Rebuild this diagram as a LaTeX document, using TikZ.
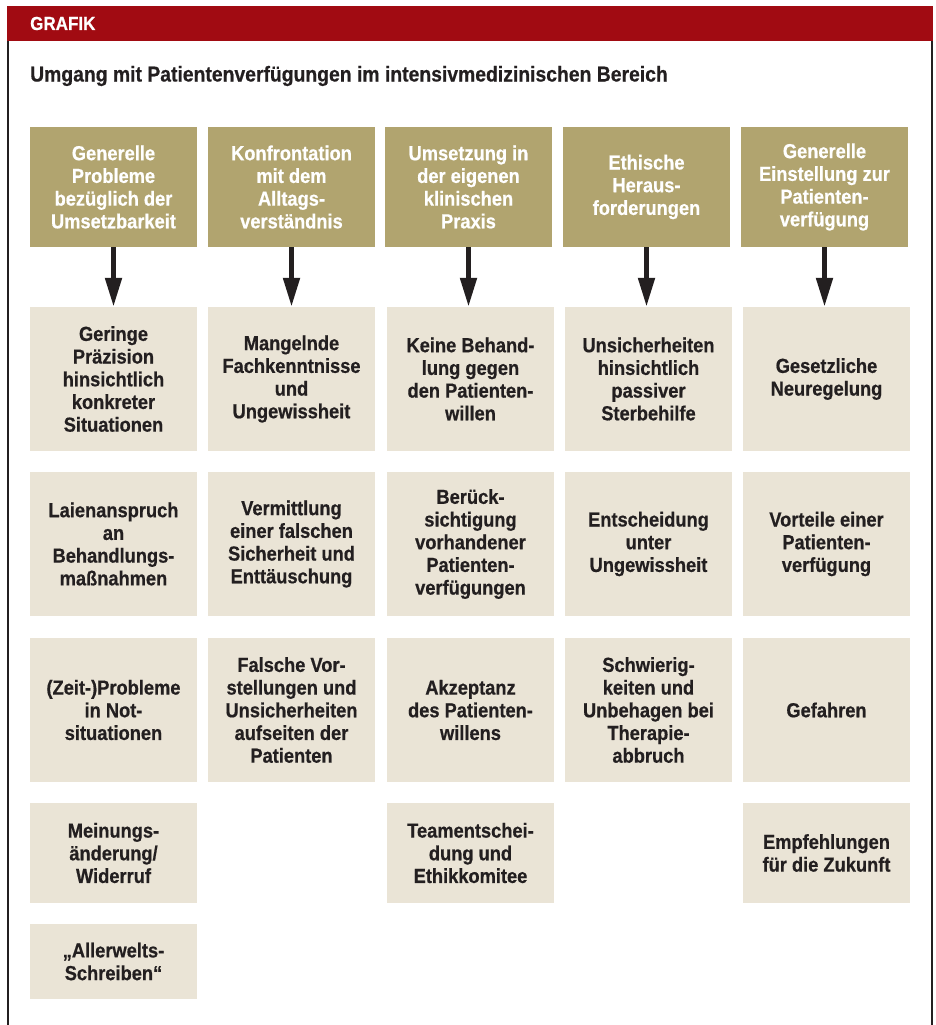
\documentclass[tikz,border=0pt]{standalone}
\usepackage{fontspec}
\setmainfont{Liberation Sans}[FakeStretch=0.9, BoldFeatures={FakeBold=0.6}]
\usetikzlibrary{arrows.meta}
\definecolor{hdrred}{HTML}{A10B12}
\definecolor{tan}{HTML}{B1A46F}
\definecolor{light}{HTML}{EAE4D6}
\definecolor{ink}{HTML}{231F20}
\tikzset{
  topbox/.style={fill=tan, text=white, align=center, inner sep=0pt,
    minimum width=167pt, minimum height=120pt,
    font=\bfseries\fontsize{20.3}{22.7}\selectfont},
  itembox/.style={fill=light, text=ink, align=center, inner sep=0pt,
    minimum width=167pt, font=\bfseries\fontsize{20.3}{22.7}\selectfont},
  rowA/.style={minimum height=144pt},
  rowC/.style={minimum height=100pt},
  rowD/.style={minimum height=75pt},
  flow/.style={draw=ink, line width=5pt, -{Triangle[width=16pt,length=29pt]}}
}
\begin{document}
\begin{tikzpicture}[x=1pt,y=-1pt]
\useasboundingbox (0,0) rectangle (935,1025);
% frame
\fill[hdrred] (7,6) rectangle (933,40.7);
\draw[ink, line width=2pt] (7.8,40.7) -- (7.8,1025);
\draw[ink, line width=2pt] (932,40.7) -- (932,1025);
\node[anchor=base west, inner sep=0pt, text=white, font=\bfseries\fontsize{18.9}{22}\selectfont] (grafik) at (30,30) {GRAFIK};
\node[anchor=base west, inner sep=0pt, text=ink, font=\bfseries\fontsize{21.5}{25}\selectfont] (title) at (30,81.5) {Umgang mit Patientenverfügungen im intensivmedizinischen Bereich};
% top boxes
\node[topbox] (t1) at (113.5,187) {Generelle\\Probleme\\bezüglich der\\Umsetzbarkeit};
\node[topbox] (t2) at (291.5,187) {Konfrontation\\mit dem\\Alltags-\\verständnis};
\node[topbox] (t3) at (468.5,187) {Umsetzung in\\der eigenen\\klinischen\\Praxis};
\node[topbox] (t4) at (646.5,187) {Ethische\\Heraus-\\forderungen};
\node[topbox] (t5) at (824.5,187) {Generelle\\Einstellung zur\\Patienten-\\verfügung};
% column 1
\node[itembox,rowA] (a1) at (113.5,379) {Geringe\\Präzision\\hinsichtlich\\konkreter\\Situationen};
\node[itembox,rowA] (a2) at (113.5,544) {Laienanspruch\\an\\Behandlungs-\\maßnahmen};
\node[itembox,rowA] (a3) at (113.5,710) {(Zeit-)Probleme\\in Not-\\situationen};
\node[itembox,rowC] (a4) at (113.5,853) {Meinungs-\\änderung/\\Widerruf};
\node[itembox,rowD] (a5) at (113.5,961.5) {„Allerwelts-\\Schreiben“};
% column 2
\node[itembox,rowA] (b1) at (291.5,379) {Mangelnde\\Fachkenntnisse\\und\\Ungewissheit};
\node[itembox,rowA] (b2) at (291.5,544) {Vermittlung\\einer falschen\\Sicherheit und\\Enttäuschung};
\node[itembox,rowA] (b3) at (291.5,710) {Falsche Vor-\\stellungen und\\Unsicherheiten\\aufseiten der\\Patienten};
% column 3
\node[itembox,rowA] (c1) at (470.5,379) {Keine Behand-\\lung gegen\\den Patienten-\\willen};
\node[itembox,rowA] (c2) at (470.5,544) {Berück-\\sichtigung\\vorhandener\\Patienten-\\verfügungen};
\node[itembox,rowA] (c3) at (470.5,710) {Akzeptanz\\des Patienten-\\willens};
\node[itembox,rowC] (c4) at (470.5,853) {Teamentschei-\\dung und\\Ethikkomitee};
% column 4
\node[itembox,rowA] (d1) at (648.5,379) {Unsicherheiten\\hinsichtlich\\passiver\\Sterbehilfe};
\node[itembox,rowA] (d2) at (648.5,544) {Entscheidung\\unter\\Ungewissheit};
\node[itembox,rowA] (d3) at (648.5,710) {Schwierig-\\keiten und\\Unbehagen bei\\Therapie-\\abbruch};
% column 5
\node[itembox,rowA] (e1) at (826.5,379) {Gesetzliche\\Neuregelung};
\node[itembox,rowA] (e2) at (826.5,544) {Vorteile einer\\Patienten-\\verfügung};
\node[itembox,rowA] (e3) at (826.5,710) {Gefahren};
\node[itembox,rowC] (e4) at (826.5,853) {Empfehlungen\\für die Zukunft};
% arrows
\draw[flow] (t1.south) -- (t1.south |- a1.north);
\draw[flow] (t2.south) -- (t2.south |- b1.north);
\draw[flow] (t3.south) -- (t3.south |- c1.north);
\draw[flow] (t4.south) -- (t4.south |- d1.north);
\draw[flow] (t5.south) -- (t5.south |- e1.north);
\end{tikzpicture}
\end{document}
